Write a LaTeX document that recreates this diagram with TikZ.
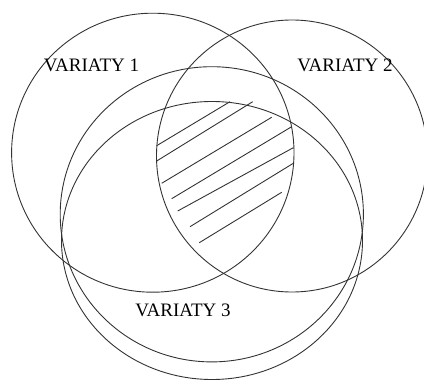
\documentclass[tikz,border=0pt]{standalone}
\usepackage{fontspec}
\setmainfont{Liberation Serif}
\begin{document}
\begin{tikzpicture}[x=1pt,y=-1pt,
  setline/.style={draw=black!80,line width=0.9pt},
  hatch/.style={draw=black!80,line width=0.9pt},
  lbl/.style={anchor=base,inner sep=0pt,font=\fontsize{19}{22}\selectfont}]
\useasboundingbox (0,0) rectangle (424,380);
\clip (0,0) rectangle (424,380);
% sets
\draw[setline] (152.8,152.7) ellipse [x radius=141.2,y radius=139.5];
\draw[setline] (292,156) ellipse [x radius=135.5,y radius=136];
\draw[setline] (211.8,214.3) ellipse [x radius=151.6,y radius=147.6];
\draw[setline] (212,240.5) ellipse [x radius=150.5,y radius=139];
% hatching
\draw[hatch] (156.7,145.7) -- (230,101.7);
\draw[hatch] (156.7,161) -- (252.7,101.7);
\draw[hatch] (161.7,183.3) -- (271.7,117.3);
\draw[hatch] (171.7,198.7) -- (291.7,126.7);
\draw[hatch] (177.7,211) -- (293.3,147.7);
\draw[hatch] (190,226.7) -- (293.3,163.3);
\draw[hatch] (199.3,242.7) -- (281.7,192.3);
% labels
\node[lbl] (v1) at (91.5,71) {VARIATY 1};
\node[lbl] (v2) at (345,71) {VARIATY 2};
\node[lbl] (v3) at (183,316) {VARIATY 3};
\end{tikzpicture}
\end{document}
